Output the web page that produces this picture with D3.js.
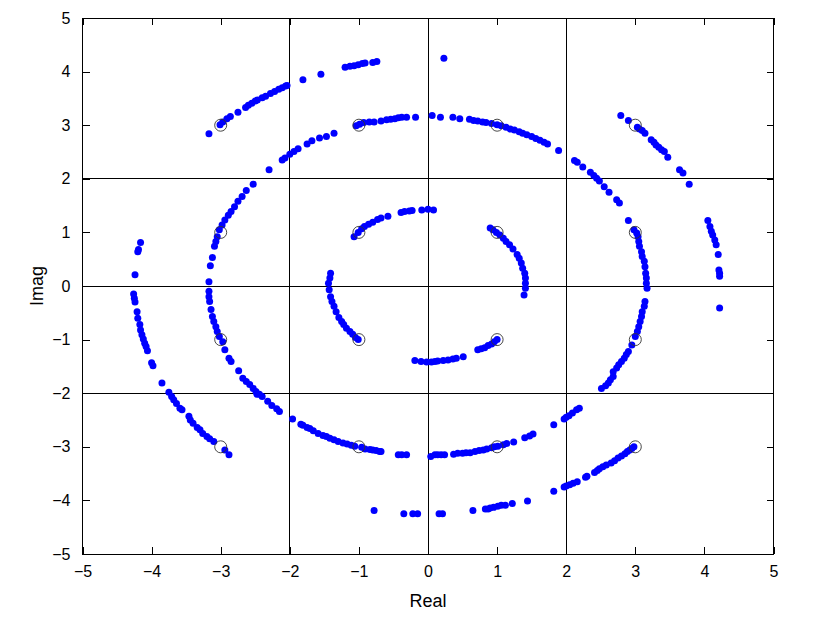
<!DOCTYPE html>
<html><head><meta charset="utf-8">
<script src="https://cdn.jsdelivr.net/npm/d3@7"></script>
<style>body{margin:0;background:#fff;} text{font-family:"Liberation Sans",Arial,sans-serif;}</style>
</head><body><svg id="c" width="816" height="643"></svg>
<script>
// Reference constellation (16-QAM)
const refLevels = [-3, -1, 1, 3];
const ticks = [-5, -4, -3, -2, -1, 0, 1, 2, 3, 4, 5];
const gridLines = [-2, 0, 2];

// Received symbols, outer ring (|s| ~ 4.24)
const outerRing = [
[-3.17,2.84],[-3.01,3.01],[-2.97,3.06],[-2.91,3.12],[-2.86,3.16],[-2.75,3.24],[-2.64,3.33],[-2.60,3.37],[-2.55,3.41],[-2.50,3.45],[-2.47,3.47],
[-2.40,3.51],[-2.35,3.54],[-2.28,3.59],[-2.22,3.63],[-2.16,3.67],[-2.11,3.70],[-2.06,3.73],[-2.04,3.74],[-1.81,3.85],[-1.55,3.95],[-1.20,4.08],[-1.13,4.10],[-1.07,4.11],[-1.01,4.13],[-0.95,4.15],[-0.91,4.16],[-0.80,4.17],[-0.74,4.19],
[0.23,4.25],
[2.79,3.18],[2.90,3.09],[3.03,2.96],[3.06,2.93],[3.10,2.90],[3.14,2.85],[3.23,2.73],[3.27,2.68],[3.30,2.63],[3.34,2.59],[3.38,2.54],[3.42,2.51],[3.47,2.40],[3.64,2.17],[3.69,2.11],[3.78,1.90],
[4.05,1.22],[4.08,1.11],[4.10,1.02],[4.12,0.95],[4.15,0.86],[4.17,0.77],[4.20,0.59],[4.21,0.30],[4.22,0.24],[4.22,0.18],[4.22,-0.41],
[-4.16,0.81],[-4.19,0.68],[-4.20,0.64],[-4.24,0.21],[-4.26,-0.15],[-4.25,-0.23],[-4.24,-0.30],[-4.21,-0.48],[-4.20,-0.60],[-4.17,-0.72],[-4.16,-0.82],[-4.14,-0.91],[-4.12,-0.99],[-4.10,-1.07],[-4.08,-1.13],[-4.06,-1.21],[-4.00,-1.43],[-3.98,-1.49],
[-3.85,-1.81],[-3.75,-1.98],[-3.71,-2.06],[-3.68,-2.12],[-3.64,-2.19],[-3.59,-2.28],[-3.56,-2.31],[-3.46,-2.43],[-3.44,-2.50],[-3.40,-2.56],[-3.34,-2.64],[-3.30,-2.68],[-3.26,-2.75],[-3.20,-2.81],[-3.16,-2.85],[-3.10,-2.90],[-2.94,-3.06],[-2.88,-3.15],
[-0.78,-4.19],[-0.35,-4.25],[-0.22,-4.25],[-0.15,-4.25],
[0.16,-4.25],[0.21,-4.25],[0.65,-4.19],[0.83,-4.16],[0.87,-4.16],[0.90,-4.14],[0.95,-4.13],[1.01,-4.11],[1.06,-4.09],[1.12,-4.09],[1.22,-4.06],[1.44,-4.01],[1.82,-3.83],[1.97,-3.75],[2.00,-3.73],[2.05,-3.71],[2.10,-3.68],[2.16,-3.65],[2.28,-3.57],[2.30,-3.55],[2.41,-3.48],[2.45,-3.44],[2.48,-3.41],[2.53,-3.37],[2.58,-3.34],
[2.65,-3.30],[2.70,-3.26],[2.75,-3.21],[2.80,-3.17],[2.85,-3.13],[2.885,-3.09],[2.92,-3.06],[2.95,-3.03],[2.98,-3.00]
];

// Received symbols, middle ring (|s| ~ 3.16)
const middleRing = [
[-2.63,1.78],[-2.53,1.90],
[-2.30,2.17],[-2.11,2.35],[-2.07,2.39],[-2.00,2.46],[-1.94,2.51],[-1.88,2.56],[-1.75,2.65],[-1.68,2.71],[-1.57,2.76],[-1.47,2.79],[-1.36,2.85],[-1.04,2.99],[-0.99,3.02],[-0.93,3.05],[-0.85,3.06],[-0.78,3.06],[-0.68,3.08],[-0.60,3.10],[-0.54,3.11],[-0.48,3.12],[-0.43,3.14],[-0.38,3.15],[-0.31,3.15],[-0.18,3.15],[0.06,3.18],
[0.18,3.15],[0.36,3.15],[0.46,3.12],[0.60,3.11],[0.66,3.09],[0.72,3.08],[0.79,3.06],[0.84,3.05],[0.92,3.03],[1.00,3.01],[1.06,2.99],[1.13,2.96],[1.19,2.93],[1.25,2.91],[1.32,2.88],[1.37,2.85],[1.43,2.82],[1.50,2.79],[1.56,2.75],[1.62,2.72],[1.68,2.68],[1.73,2.65],[1.89,2.53],[2.12,2.34],[2.16,2.31],[2.24,2.22],[2.35,2.12],[2.40,2.06],[2.44,2.01],[2.48,1.96],[2.55,1.85],[2.62,1.75],
[2.73,1.61],[2.77,1.55],[2.90,1.22],[2.98,1.05],[3.02,0.99],[3.04,0.92],[3.05,0.83],[3.06,0.74],[3.09,0.64],[3.10,0.55],[3.13,0.46],[3.14,0.36],[3.15,0.24],[3.16,0.15],[3.16,0.05],[3.17,-0.04],[3.14,-0.29],[3.13,-0.38],[3.10,-0.48],[3.09,-0.57],[3.07,-0.66],[3.05,-0.76],[3.03,-0.85],[3.00,-0.94],[2.95,-1.10],[2.90,-1.22],[2.87,-1.28],[2.84,-1.35],[2.80,-1.41],[2.76,-1.47],[2.73,-1.53],[2.68,-1.60],
[2.68,-1.69],[2.64,-1.75],[2.61,-1.81],[2.57,-1.86],[2.51,-1.91],
[2.19,-2.28],[2.15,-2.31],[2.09,-2.37],[2.04,-2.42],[2.00,-2.45],[1.97,-2.48],[1.82,-2.59],[1.52,-2.76],[1.47,-2.80],[1.40,-2.83],[1.24,-2.91],[1.14,-2.94],[1.09,-2.96],[1.01,-2.99],[0.96,-3.00],[0.92,-3.02],[0.85,-3.04],[0.80,-3.06],[0.74,-3.07],[0.68,-3.09],[0.61,-3.11],[0.55,-3.11],[0.50,-3.12],[0.43,-3.12],[0.37,-3.14],[0.24,-3.15],[0.19,-3.15],[0.14,-3.15],[0.10,-3.15],
[0.04,-3.18],[-0.31,-3.15],[-0.38,-3.15],[-0.43,-3.15],[-0.68,-3.09],[-0.70,-3.09],[-0.75,-3.07],[-0.80,-3.06],[-0.84,-3.05],[-0.91,-3.04],[-0.96,-3.01],[-1.06,-2.99],[-1.11,-2.97],[-1.17,-2.95],[-1.23,-2.93],[-1.30,-2.90],[-1.36,-2.87],[-1.42,-2.84],[-1.47,-2.81],[-1.52,-2.79],[-1.59,-2.75],[-1.66,-2.70],[-1.71,-2.66],[-1.75,-2.64],[-1.81,-2.60],[-1.84,-2.58],[-1.96,-2.48],[-2.15,-2.34],[-2.19,-2.29],[-2.26,-2.23],[-2.32,-2.15],[-2.40,-2.06],[-2.44,-2.02],
[-2.475,-2.02],[-2.49,-1.97],[-2.53,-1.91],[-2.58,-1.84],[-2.63,-1.78],[-2.68,-1.72],
[-2.74,-1.58],[-2.85,-1.41],[-2.88,-1.35],[-2.94,-1.19],[-2.97,-1.04],[-3.02,-0.94],[-3.05,-0.85],[-3.07,-0.76],[-3.10,-0.66],[-3.12,-0.57],[-3.14,-0.44],[-3.16,-0.29],[-3.17,-0.20],[-3.17,-0.10],[-3.17,0.08],[-3.15,0.38],[-3.12,0.53],[-3.09,0.74],[-3.07,0.83],[-3.05,0.92],[-3.02,1.05],[-2.98,1.14],[-2.94,1.23],[-2.89,1.32],[-2.85,1.39],[-2.80,1.48],[-2.75,1.58],[-2.69,1.67]
];

// Received symbols, inner ring (|s| ~ 1.41)
const innerRing = [
[-1.07,0.92],[-1.01,1.00],[-0.96,1.07],[-0.92,1.11],[-0.86,1.15],[-0.80,1.19],[-0.73,1.24],[-0.68,1.27],[-0.58,1.30],[-0.39,1.37],[-0.34,1.39],[-0.27,1.40],[-0.23,1.41],[-0.09,1.42],[0.00,1.43],[0.08,1.42],
[-1.41,0.24],[-1.42,0.15],[-1.44,0.05],[-1.43,-0.07],[-1.41,-0.20],[-1.39,-0.29],[-1.36,-0.38],[-1.33,-0.48],[-1.29,-0.59],[-1.25,-0.66],[-1.22,-0.72],[-1.18,-0.79],[-1.13,-0.85],[-1.09,-0.90],[-1.05,-0.96],[-1.01,-1.00],
[0.90,1.08],[0.94,1.05],[0.99,1.00],[1.04,0.95],[1.09,0.89],[1.13,0.83],[1.18,0.77],[1.23,0.69],[1.29,0.59],[1.32,0.52],[1.35,0.43],[1.37,0.33],[1.40,0.24],[1.41,0.15],[1.41,0.05],[1.41,-0.04],[1.39,-0.17],
[1.00,-1.00],[0.96,-1.04],[0.92,-1.08],[0.87,-1.11],[0.82,-1.15],[0.77,-1.17],[0.72,-1.19],[0.51,-1.32],[0.41,-1.35],[0.36,-1.36],[0.29,-1.38],[0.22,-1.39],[0.14,-1.40],[0.10,-1.41],[0.05,-1.42],[-0.02,-1.42],[-0.10,-1.41],[-0.19,-1.39]
];

const xLabel = "Real", yLabel = "Imag";

const svg = d3.select("#c");
const L = 82.5, R = 773.5, T = 18, B = 554;
const x = d3.scaleLinear().domain([-5, 5]).range([L, R]);
const y = d3.scaleLinear().domain([-5, 5]).range([B, T]);
const fmt = d => d < 0 ? "\u2212" + Math.abs(d) : String(d);

svg.append("rect").attr("width", 816).attr("height", 643).attr("fill", "#fff");

// grid lines
const g = svg.append("g").attr("stroke", "#000").attr("stroke-width", 1).attr("shape-rendering", "crispEdges");
g.selectAll(".gx").data(gridLines).join("line").attr("x1", d => x(d)).attr("x2", d => x(d)).attr("y1", T).attr("y2", B);
g.selectAll(".gy").data(gridLines).join("line").attr("y1", d => y(d)).attr("y2", d => y(d)).attr("x1", L).attr("x2", R);

// axes with inner ticks (box)
const tl = 7;
svg.append("g").attr("transform", `translate(0,${B})`)
  .call(d3.axisBottom(x).tickValues(ticks).tickSizeInner(-tl).tickSizeOuter(0).tickPadding(12).tickFormat(fmt));
svg.append("g").attr("transform", `translate(0,${T})`)
  .call(d3.axisTop(x).tickValues(ticks).tickSizeInner(-tl).tickSizeOuter(0).tickFormat(""));
svg.append("g").attr("transform", `translate(${L},0)`)
  .call(d3.axisLeft(y).tickValues(ticks).tickSizeInner(-tl).tickSizeOuter(0).tickPadding(12).tickFormat(fmt));
svg.append("g").attr("transform", `translate(${R},0)`)
  .call(d3.axisRight(y).tickValues(ticks).tickSizeInner(-tl).tickSizeOuter(0).tickFormat(""));
svg.selectAll(".domain").remove();
svg.selectAll(".tick line").attr("stroke", "#000").attr("shape-rendering", "crispEdges");
svg.selectAll(".tick text").attr("font-size", 16).attr("fill", "#000").attr("font-family", "Liberation Sans, Arial, sans-serif");

svg.append("rect").attr("x", L).attr("y", T).attr("width", R - L).attr("height", B - T)
  .attr("fill", "none").attr("stroke", "#000").attr("shape-rendering", "crispEdges");

// received symbols
const pts = outerRing.concat(middleRing, innerRing);
svg.append("g").selectAll("circle").data(pts).join("circle")
  .attr("cx", d => x(d[0])).attr("cy", d => y(d[1])).attr("r", 3.5).attr("fill", "#0000ff");

// reference constellation
const refPts = d3.cross(refLevels, refLevels);
svg.append("g").selectAll("circle").data(refPts).join("circle")
  .attr("cx", d => x(d[0])).attr("cy", d => y(d[1])).attr("r", 6)
  .attr("fill", "none").attr("stroke", "#333").attr("stroke-width", 0.9);

svg.append("text").attr("x", (L + R) / 2).attr("y", 607).attr("text-anchor", "middle")
  .attr("font-size", 18).text(xLabel);
svg.append("text").attr("transform", `translate(43,${(T + B) / 2}) rotate(-90)`).attr("text-anchor", "middle")
  .attr("font-size", 18).text(yLabel);
</script></body></html>
